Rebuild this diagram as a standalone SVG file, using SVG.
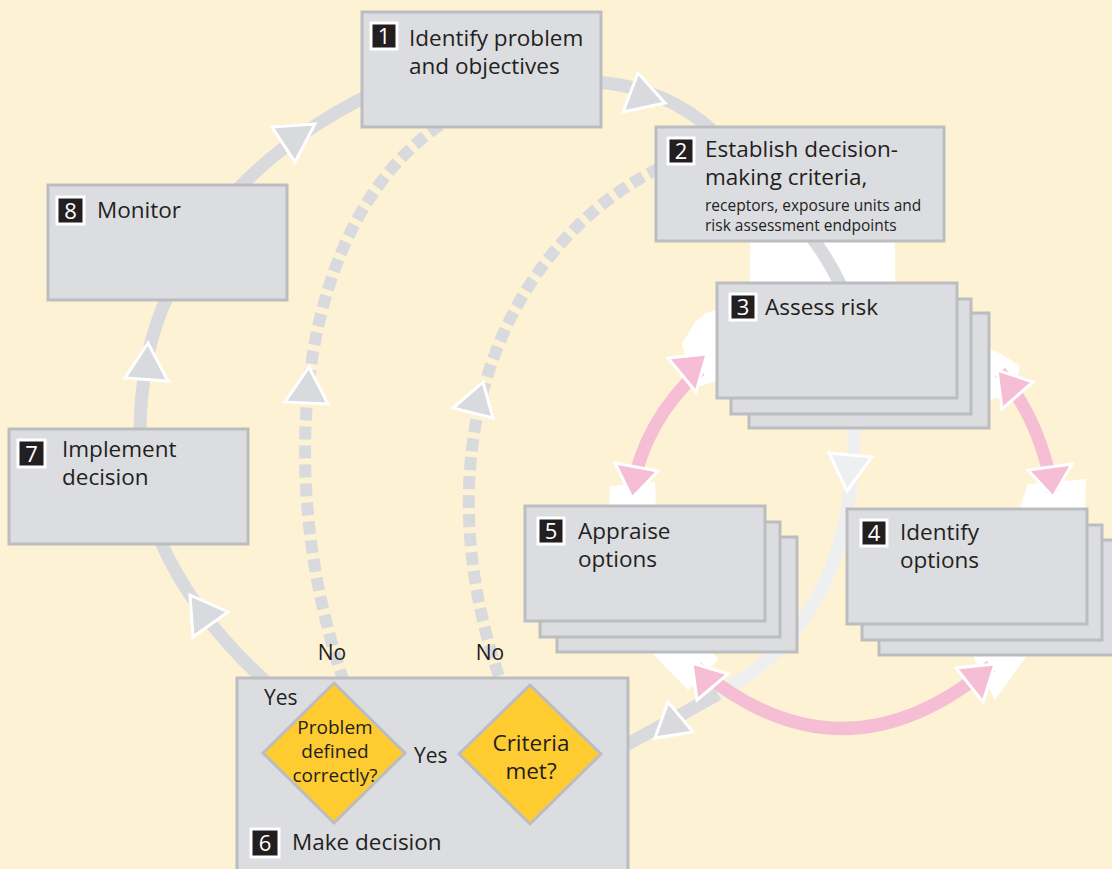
<svg xmlns="http://www.w3.org/2000/svg" width="1112" height="869" viewBox="0 0 1112 869">
<defs>
<style>
.bg{fill:#fef2d5}
.box{fill:#dcdde0;stroke:#bcbdc0;stroke-width:3}
.badge{fill:#231f20;stroke:#ffffff;stroke-width:3}
.num{font-family:"Open Sans","Noto Sans","DejaVu Sans",sans-serif;font-size:22px;fill:#ffffff;text-anchor:middle}
.t{font-family:"Open Sans","Noto Sans","DejaVu Sans",sans-serif;font-size:22.5px;fill:#231f20}
.s{font-family:"Open Sans","Noto Sans","DejaVu Sans",sans-serif;font-size:15.5px;fill:#231f20}
.d{font-family:"Open Sans","Noto Sans","DejaVu Sans",sans-serif;fill:#231f20;text-anchor:middle}
.lbl{font-family:"Open Sans","Noto Sans","DejaVu Sans",sans-serif;font-size:21px;fill:#231f20}
.halo{fill:#ffffff}
.loop{fill:none;stroke:#d9dade;stroke-width:13}
.light{fill:none;stroke:#eeeff1;stroke-width:13}
.dash{fill:none;stroke:#d9dade;stroke-width:12;stroke-dasharray:13 6}
.head{fill:#d9dade;stroke:#ffffff;stroke-width:3;stroke-linejoin:miter}
.lhead{fill:#eeeff1;stroke:#ffffff;stroke-width:3}
.pink{fill:none;stroke:#f5bed4;stroke-width:13}
.phead{fill:#f5bed4;stroke:#ffffff;stroke-width:3}
.dia{fill:#fecb31;stroke:#bcbdc0;stroke-width:3}
</style>
</defs>
<rect class="bg" x="0" y="0" width="1112" height="869"/>

<g id="halos">
<rect class="halo" x="750" y="240" width="145" height="44"/>
<polygon class="halo" points="706,313 717,310 717,381 700,386 690,372 682,344 695,322"/>
<polygon class="halo" points="989,348 1003,355 1020,366 1017,378 998,398 989,400"/>
<polygon class="halo" points="610,486 655,482 656,507 609,507"/>
<polygon class="halo" points="1028,484 1086,479 1085,510 1019,510"/>
<polygon class="halo" points="650,651 712,651 718,660 688,690"/>
<polygon class="halo" points="972,654 1028,654 995,700"/>
</g>

<g id="connectors">
<path class="loop" d="M275,690 Q195,620 160,540"/>
<path class="loop" d="M140,435 Q140,355 168,295"/>
<path class="loop" d="M235,192 Q288,136 365,97"/>
<path class="loop" d="M598,82 Q665,88 712,130"/>
<path class="loop" d="M812,238 Q828,258 842,288"/>
<path class="light" d="M854,425 C855,570 800,650 718,694"/>
<path class="loop" d="M718,694 Q672,720 626,745"/>
<path class="dash" d="M440,125 C300,220 270,470 345,685"/>
<path class="dash" d="M660,168 C510,240 415,440 502,685"/>
<polygon class="head" points="190,595 228,612 193,637"/>
<polygon class="head" points="148,343 125,378 168,381"/>
<polygon class="head" points="315,124 272,127 295,162"/>
<polygon class="head" points="665,103 638,73 623,112"/>
<polygon class="lhead" points="847,491 829,453 872,457"/>
<polygon class="head" points="655,738 668,702 693,732"/>
<polygon class="head" points="309,367 285,402 328,404"/>
<polygon class="head" points="483,382 453,408 493,418"/>
<path class="pink" d="M700,370 Q645,420 632,490"/>
<path class="pink" d="M1000,372 Q1040,420 1053,492"/>
<path class="pink" d="M697,668 Q843,790 991,666"/>
<polygon class="phead" points="707,354 668,358 696,392"/>
<polygon class="phead" points="632,498 615,463 658,471"/>
<polygon class="phead" points="997,370 1033,382 1002,409"/>
<polygon class="phead" points="1053,497 1028,470 1072,464"/>
<polygon class="phead" points="692,663 728,674 697,700"/>
<polygon class="phead" points="995,664 956,668 983,702"/>
</g>

<g id="node1">
<rect class="box" x="362" y="12" width="239" height="115"/>
<rect class="badge" x="371" y="23" width="26" height="26"/>
<text class="num" x="384" y="44">1</text>
<text class="t" x="409" y="46">Identify problem</text>
<text class="t" x="409" y="74">and objectives</text>
</g>

<g id="node2">
<rect class="box" x="656" y="127" width="288" height="114"/>
<rect class="badge" x="668" y="138" width="26" height="26"/>
<text class="num" x="681" y="159">2</text>
<text class="t" x="705" y="157">Establish decision-</text>
<text class="t" x="705" y="185">making criteria,</text>
<text class="s" x="705" y="211">receptors, exposure units and</text>
<text class="s" x="705" y="231">risk assessment endpoints</text>
</g>

<g id="node3">
<rect class="box" x="749" y="313" width="240" height="115"/>
<rect class="box" x="731" y="299" width="240" height="115"/>
<rect class="box" x="717" y="283" width="240" height="115"/>
<rect class="badge" x="730" y="294" width="26" height="26"/>
<text class="num" x="743" y="315">3</text>
<text class="t" x="765" y="315">Assess risk</text>
</g>

<g id="node4">
<rect class="box" x="879" y="540" width="240" height="115"/>
<rect class="box" x="862" y="525" width="240" height="115"/>
<rect class="box" x="847" y="509" width="240" height="115"/>
<rect class="badge" x="861" y="520" width="26" height="26"/>
<text class="num" x="874" y="541">4</text>
<text class="t" x="900" y="540">Identify</text>
<text class="t" x="900" y="568">options</text>
</g>

<g id="node5">
<rect class="box" x="557" y="537" width="240" height="115"/>
<rect class="box" x="540" y="522" width="240" height="115"/>
<rect class="box" x="525" y="506" width="240" height="115"/>
<rect class="badge" x="538" y="518" width="26" height="26"/>
<text class="num" x="551" y="539">5</text>
<text class="t" x="578" y="539">Appraise</text>
<text class="t" x="578" y="567">options</text>
</g>

<g id="node6">
<rect class="box" x="237" y="678" width="391" height="200"/>
<polygon class="dia" points="334,683 405,753 334,823 263,753"/>
<polygon class="dia" points="530,685 601,754 530,824 459,754"/>
<text class="d" x="335" y="734" font-size="19">Problem</text>
<text class="d" x="335" y="758" font-size="19">defined</text>
<text class="d" x="335" y="782" font-size="19">correctly?</text>
<text class="d" x="531" y="751" font-size="22.5">Criteria</text>
<text class="d" x="531" y="779" font-size="22.5">met?</text>
<text class="lbl" x="264" y="705">Yes</text>
<text class="lbl" x="414" y="763">Yes</text>
<rect class="badge" x="251" y="829" width="28" height="28"/>
<text class="num" x="265" y="851">6</text>
<text class="t" x="292" y="850">Make decision</text>
</g>

<g id="node7">
<rect class="box" x="9" y="429" width="239" height="115"/>
<rect class="badge" x="18" y="440" width="27" height="27"/>
<text class="num" x="31.5" y="462">7</text>
<text class="t" x="62" y="457">Implement</text>
<text class="t" x="62" y="485">decision</text>
</g>

<g id="node8">
<rect class="box" x="48" y="185" width="239" height="115"/>
<rect class="badge" x="57" y="197" width="27" height="27"/>
<text class="num" x="70.5" y="219">8</text>
<text class="t" x="97" y="218">Monitor</text>
</g>

<g id="labels">
<text class="lbl" x="332" y="660" text-anchor="middle">No</text>
<text class="lbl" x="490" y="660" text-anchor="middle">No</text>
</g>
</svg>
